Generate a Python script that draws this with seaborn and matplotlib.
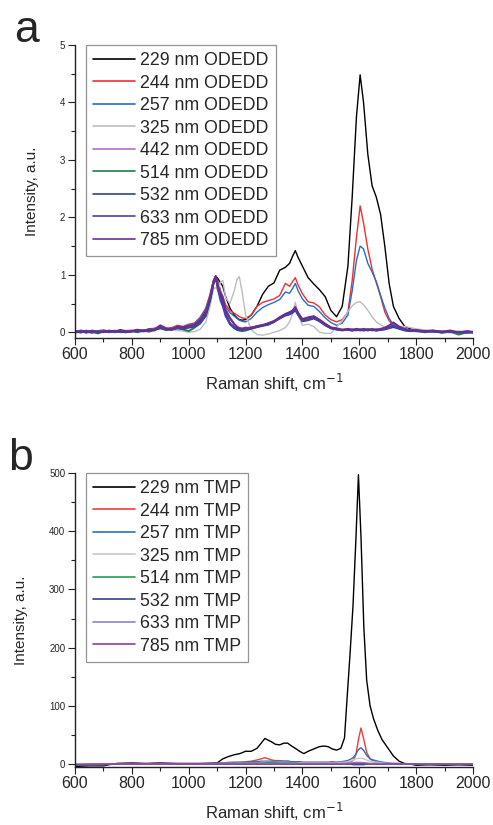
import numpy as np
import pandas as pd
import matplotlib
matplotlib.use("Agg")
import matplotlib.pyplot as plt
from matplotlib.ticker import MultipleLocator
import seaborn as sns

# ---------------- Panel a data (ODEDD) ----------------
A_X = [600, 620, 640, 660, 680, 700, 720, 740, 760, 780,
       800, 820, 840, 860, 880, 900, 920, 940, 960, 980,
       1000, 1020, 1040, 1060, 1075, 1087, 1095, 1103, 1112, 1120,
       1130, 1145, 1160, 1170, 1178, 1188, 1200, 1220, 1240, 1260,
       1280, 1300, 1320, 1340, 1355, 1365, 1375, 1385, 1400, 1420,
       1440, 1460, 1480, 1500, 1520, 1540, 1560, 1575, 1590, 1603,
       1615, 1630, 1645, 1660, 1675, 1690, 1705, 1720, 1740, 1760,
       1780, 1800, 1830, 1860, 1890, 1920, 1950, 1980, 2000]

A_229 = [0.0, 0.01, -0.01, 0.02, 0.0, 0.01, 0.02, 0.0, 0.02, 0.01,
         0.02, 0.03, 0.02, 0.04, 0.05, 0.09, 0.05, 0.06, 0.08, 0.08,
         0.10, 0.14, 0.22, 0.38, 0.62, 0.88, 0.98, 0.93, 0.86, 0.80,
         0.62, 0.42, 0.30, 0.25, 0.22, 0.21, 0.22, 0.30, 0.45, 0.66,
         0.80, 0.86, 1.08, 1.13, 1.20, 1.32, 1.42, 1.30, 1.15, 0.95,
         0.84, 0.74, 0.62, 0.38, 0.27, 0.45, 1.15, 2.35, 3.75, 4.48,
         4.00, 3.10, 2.55, 2.35, 2.05, 1.49, 0.85, 0.45, 0.24, 0.10,
         0.06, 0.03, 0.02, 0.01, 0.0, 0.01, 0.0, -0.01, 0.0]
A_244 = [0.02, 0.0, 0.03, 0.01, 0.02, 0.0, 0.03, 0.01, 0.02, 0.03,
         0.03, 0.05, 0.03, 0.06, 0.07, 0.12, 0.07, 0.08, 0.12, 0.10,
         0.14, 0.16, 0.26, 0.42, 0.66, 0.90, 0.97, 0.88, 0.72, 0.62,
         0.48, 0.38, 0.33, 0.30, 0.27, 0.25, 0.24, 0.30, 0.45, 0.52,
         0.55, 0.58, 0.64, 0.85, 0.80, 0.88, 0.95, 0.82, 0.67, 0.53,
         0.51, 0.44, 0.30, 0.22, 0.18, 0.22, 0.35, 0.90, 1.65, 2.20,
         1.90, 1.45, 1.10, 0.86, 0.62, 0.35, 0.20, 0.12, 0.07, 0.05,
         0.04, 0.03, 0.02, 0.03, 0.01, 0.02, 0.0, 0.02, 0.01]
A_257 = [0.01, 0.02, 0.0, 0.02, 0.01, 0.02, 0.0, 0.02, 0.01, 0.02,
         0.02, 0.04, 0.03, 0.05, 0.06, 0.10, 0.06, 0.07, 0.10, 0.09,
         0.12, 0.15, 0.24, 0.40, 0.64, 0.90, 0.97, 0.86, 0.70, 0.58,
         0.44, 0.34, 0.28, 0.24, 0.21, 0.19, 0.18, 0.24, 0.35, 0.43,
         0.48, 0.52, 0.57, 0.70, 0.68, 0.76, 0.85, 0.72, 0.58, 0.47,
         0.45, 0.36, 0.25, 0.17, 0.12, 0.16, 0.30, 0.72, 1.25, 1.50,
         1.45, 1.20, 1.05, 0.88, 0.64, 0.42, 0.24, 0.13, 0.07, 0.05,
         0.04, 0.02, 0.03, 0.01, 0.02, 0.0, 0.01, 0.0, 0.01]
A_325 = [0.0, 0.02, -0.01, 0.01, 0.0, 0.02, 0.0, 0.01, 0.0, 0.02,
         0.01, 0.02, 0.0, 0.03, 0.04, 0.06, 0.03, 0.04, 0.03, 0.02,
         0.0, 0.01, 0.05, 0.18, 0.45, 0.75, 0.78, 0.72, 0.88, 0.90,
         0.60, 0.50, 0.72, 0.92, 0.97, 0.70, 0.30, 0.05, -0.04, -0.05,
         -0.03, 0.0, 0.03, 0.08, 0.18, 0.32, 0.52, 0.30, 0.12, 0.14,
         0.10, 0.0, -0.02, -0.02, 0.09, 0.20, 0.36, 0.46, 0.52, 0.53,
         0.48, 0.38, 0.27, 0.18, 0.13, 0.09, 0.08, 0.09, 0.10, 0.10,
         0.08, 0.06, 0.04, 0.03, 0.01, 0.02, 0.0, 0.01, 0.0]
A_442 = [0.02, -0.01, 0.03, 0.0, 0.02, 0.04, 0.01, 0.03, 0.0, 0.02,
         0.03, 0.01, 0.04, 0.02, 0.05, 0.11, 0.06, 0.05, 0.09, 0.08,
         0.10, 0.12, 0.19, 0.32, 0.58, 0.86, 0.96, 0.82, 0.70, 0.62,
         0.40, 0.26, 0.15, 0.10, 0.08, 0.07, 0.06, 0.09, 0.10, 0.13,
         0.15, 0.20, 0.24, 0.30, 0.34, 0.37, 0.42, 0.32, 0.22, 0.24,
         0.26, 0.20, 0.14, 0.09, 0.06, 0.05, 0.04, 0.06, 0.03, 0.05,
         0.04, 0.06, 0.03, 0.05, 0.04, 0.07, 0.10, 0.15, 0.09, 0.05,
         0.03, 0.02, 0.01, 0.03, 0.0, 0.02, -0.01, 0.01, 0.0]
A_514 = [-0.01, 0.02, 0.0, 0.01, -0.02, 0.01, 0.02, 0.0, 0.01, 0.0,
         0.02, 0.0, 0.03, 0.01, 0.04, 0.08, 0.04, 0.05, 0.07, 0.05,
         0.02, 0.08, 0.15, 0.28, 0.55, 0.84, 0.95, 0.78, 0.66, 0.56,
         0.32, 0.16, 0.08, 0.04, 0.03, 0.02, 0.03, 0.06, 0.09, 0.11,
         0.13, 0.18, 0.26, 0.31, 0.32, 0.35, 0.40, 0.34, 0.20, 0.23,
         0.27, 0.21, 0.13, 0.07, 0.05, 0.03, 0.05, 0.04, 0.05, 0.03,
         0.05, 0.04, 0.06, 0.03, 0.05, 0.06, 0.08, 0.11, 0.07, 0.04,
         0.02, 0.03, 0.0, 0.02, -0.01, 0.01, -0.04, 0.0, -0.01]
A_532 = [0.01, 0.0, 0.02, 0.01, 0.0, 0.02, 0.01, 0.02, 0.01, 0.0,
         0.02, 0.02, 0.03, 0.03, 0.04, 0.07, 0.05, 0.05, 0.07, 0.06,
         0.08, 0.10, 0.16, 0.30, 0.56, 0.85, 0.96, 0.76, 0.62, 0.52,
         0.30, 0.14, 0.07, 0.05, 0.04, 0.04, 0.05, 0.07, 0.09, 0.12,
         0.14, 0.18, 0.24, 0.29, 0.31, 0.34, 0.38, 0.30, 0.19, 0.21,
         0.24, 0.19, 0.12, 0.07, 0.05, 0.04, 0.04, 0.03, 0.04, 0.04,
         0.03, 0.04, 0.04, 0.03, 0.04, 0.05, 0.07, 0.09, 0.06, 0.03,
         0.02, 0.02, 0.01, 0.02, 0.0, 0.01, 0.0, 0.0, 0.01]
A_633 = [0.02, 0.01, 0.0, 0.03, 0.01, 0.02, 0.0, 0.02, 0.03, 0.01,
         0.02, 0.03, 0.02, 0.04, 0.05, 0.09, 0.05, 0.06, 0.08, 0.07,
         0.09, 0.11, 0.17, 0.31, 0.57, 0.87, 0.97, 0.74, 0.55, 0.45,
         0.28, 0.15, 0.09, 0.07, 0.05, 0.05, 0.05, 0.08, 0.10, 0.12,
         0.14, 0.19, 0.25, 0.30, 0.32, 0.36, 0.41, 0.31, 0.21, 0.22,
         0.25, 0.20, 0.13, 0.08, 0.05, 0.04, 0.05, 0.04, 0.05, 0.05,
         0.04, 0.05, 0.04, 0.05, 0.04, 0.06, 0.08, 0.12, 0.07, 0.04,
         0.03, 0.02, 0.02, 0.01, 0.01, 0.0, 0.01, 0.0, 0.0]
A_785 = [0.0, 0.03, 0.01, -0.01, 0.02, 0.0, 0.03, 0.01, 0.04, 0.02,
         0.01, 0.04, 0.02, 0.05, 0.03, 0.12, 0.07, 0.04, 0.10, 0.09,
         0.11, 0.13, 0.20, 0.33, 0.60, 0.88, 0.98, 0.80, 0.68, 0.60,
         0.38, 0.24, 0.14, 0.09, 0.07, 0.06, 0.08, 0.07, 0.11, 0.12,
         0.16, 0.19, 0.26, 0.32, 0.35, 0.38, 0.44, 0.33, 0.23, 0.26,
         0.28, 0.22, 0.15, 0.08, 0.07, 0.04, 0.06, 0.03, 0.06, 0.04,
         0.06, 0.03, 0.05, 0.04, 0.06, 0.08, 0.12, 0.17, 0.10, 0.06,
         0.03, 0.04, 0.02, 0.03, 0.01, 0.03, 0.0, 0.02, 0.0]

A_LABELS = ["229 nm ODEDD", "244 nm ODEDD", "257 nm ODEDD", "325 nm ODEDD",
            "442 nm ODEDD", "514 nm ODEDD", "532 nm ODEDD", "633 nm ODEDD",
            "785 nm ODEDD"]
A_SERIES = [A_229, A_244, A_257, A_325, A_442, A_514, A_532, A_633, A_785]
A_COLORS = ["#000000", "#f03030", "#2a6cc4", "#bdbdbd", "#b070c0",
            "#1e7f45", "#34437e", "#4a3fb4", "#6e2c8c"]

# ---------------- Panel b data (TMP) ----------------
B_X = [600, 650, 700, 720, 750, 800, 850, 900, 950, 1000,
       1050, 1100, 1120, 1140, 1160, 1180, 1200, 1220, 1240, 1255,
       1268, 1280, 1292, 1305, 1320, 1335, 1348, 1362, 1375, 1390,
       1405, 1420, 1440, 1460, 1475, 1490, 1505, 1520, 1535, 1548,
       1558, 1568, 1578, 1588, 1597, 1606, 1616, 1626, 1638, 1650,
       1665, 1680, 1700, 1720, 1740, 1760, 1780, 1800, 1850, 1900,
       1950, 2000]

B_229 = [-4, -3, -3, -1, 1, 2, 1, 2, 1, 1,
         1, 2, 9, 13, 16, 18, 22, 22, 27, 36,
         44, 41, 38, 34, 33, 36, 36, 31, 27, 22,
         18, 22, 26, 30, 31, 30, 26, 24, 27, 45,
         120, 193, 273, 385, 497, 390, 235, 144, 100, 78,
         58, 42, 28, 14, 5, 1, 0, -2, -1, -2,
         -1, -2]
B_244 = [-2, -2, -1, 0, 1, 1, 1, 1, 1, 1,
         1, 1, 2, 3, 3, 3, 4, 5, 7, 9,
         11, 9, 7, 6, 6, 5, 5, 4, 4, 3,
         3, 3, 3, 3, 3, 3, 4, 3, 3, 3,
         3, 4, 6, 16, 42, 62, 42, 20, 9, 5,
         3, 2, 1, 1, 1, 0, 0, 0, 0, 0,
         0, 0]
B_257 = [-2, -1, -1, 0, 1, 1, 0, 1, 1, 0,
         1, 1, 2, 2, 3, 3, 3, 4, 4, 5,
         5, 5, 5, 5, 5, 5, 5, 4, 4, 4,
         3, 3, 3, 3, 3, 3, 3, 3, 4, 5,
         6, 8, 11, 17, 25, 28, 23, 15, 9, 7,
         5, 3.5, 2, 1, 1, 0, 0, 0, 0, 0,
         0, 0]
B_325 = [0, 0, 0, 0, 0, 0, 0, 0, 0, 0,
         0, 0, 1, 1, 1, 2, 2, 2, 2, 3,
         3, 3, 3, 3, 3, 3, 3, 2, 2, 2,
         2, 2, 2, 2, 2, 2, 2, 2, 3, 3,
         4, 5, 7, 9, 10, 10, 9, 7, 5, 4,
         3, 2, 1, 1, 0, 0, 0, 0, 0, 0,
         0, 0]
B_514 = [-1, -1, 0, 0, 0, 1, 0, 1, 0, 0,
         0, 1, 1, 1, 1, 2, 2, 2, 2, 2,
         2, 3, 3, 3, 2, 2, 2, 2, 2, 1,
         1, 1, 1, 1, 1, 1, 1, 1, 1, 1,
         1, 1, 2, 2, 2, 2, 2, 1, 1, 1,
         1, 0, 0, 0, 0, 0, 0, 0, 0, 0,
         0, 0]
B_532 = [-1, -1, -1, 0, 0, 0, 0, 0, 0, 0,
         0, 0, 0, 0, 0, 0, 0, 0, 0, 0,
         0, 0, 0, 0, 0, 0, 0, 0, 0, 0,
         0, 0, 0, 0, 0, 0, 0, 0, 0, 0,
         0, 0, -1, -1, -1, -1, -1, 0, 0, 0,
         0, 0, 0, 0, 0, 0, 0, 0, -1, -1,
         -1, -1]
B_633 = [0, 0, 0, 0, 0, 0, 0, 0, 0, 0,
         0, 1, 1, 1, 1, 1, 1, 1, 1, 1,
         1, 1, 1, 1, 1, 1, 1, 1, 1, 1,
         1, 1, 1, 1, 1, 1, 1, 1, 1, 1,
         1, 2, 2, 3, 3, 3, 2, 2, 1, 1,
         1, 1, 0, 0, 0, 0, 0, 0, 0, 0,
         0, 0]
B_785 = [-1, 0, 0, 0, 0, 0, 0, 0, 0, 0,
         0, 0, 0, 0, 0, 0, 0, 0, 0, 0,
         0, 0, 0, 0, 0, 0, 0, 0, 0, 0,
         0, 0, 0, 0, 0, 0, 0, 0, 0, 0,
         0, 0, 1, 1, 1, 1, 1, 0, 0, 0,
         0, 0, 0, 0, 0, 0, 0, 0, 0, 0,
         0, 0]

B_LABELS = ["229 nm TMP", "244 nm TMP", "257 nm TMP", "325 nm TMP",
            "514 nm TMP", "532 nm TMP", "633 nm TMP", "785 nm TMP"]
B_SERIES = [B_229, B_244, B_257, B_325, B_514, B_532, B_633, B_785]
B_COLORS = ["#000000", "#f03c3c", "#2f6fc0", "#c8c8c8", "#2a9a55",
            "#34437e", "#8f80c4", "#9040a0"]


def long_df(xs, series, labels):
    frames = []
    for lab, ys in zip(labels, series):
        assert len(ys) == len(xs), (lab, len(ys), len(xs))
        frames.append(pd.DataFrame({"x": xs, "y": ys, "s": lab}))
    return pd.concat(frames, ignore_index=True)


sns.set_style("ticks")
plt.rcParams["font.family"] = ["Liberation Sans", "DejaVu Sans"]

W, H = 493, 825
fig = plt.figure(figsize=(W / 100, H / 100), dpi=100)
ax1 = fig.add_axes([75 / W, 1 - 338 / H, 398 / W, 293 / H])
ax2 = fig.add_axes([75 / W, 1 - 767 / H, 398 / W, 294 / H])

dfa = long_df(A_X, A_SERIES, A_LABELS)
dfb = long_df(B_X, B_SERIES, B_LABELS)

sns.lineplot(data=dfa, x="x", y="y", hue="s", hue_order=A_LABELS,
             palette=dict(zip(A_LABELS, A_COLORS)), estimator=None, sort=False,
             linewidth=1.0, ax=ax1, legend=False)
sns.lineplot(data=dfb, x="x", y="y", hue="s", hue_order=B_LABELS,
             palette=dict(zip(B_LABELS, B_COLORS)), estimator=None, sort=False,
             linewidth=1.0, ax=ax2, legend=False)
for ln in ax1.lines[4:]:
    ln.set_linewidth(1.4)

for ax, (ylo, yhi), ymaj, ymin, labels, colors, top in [
        (ax1, (-0.1, 5.0), 1, 0.5, A_LABELS, A_COLORS, 45),
        (ax2, (-5, 500), 100, 50, B_LABELS, B_COLORS, 473)]:
    ax.set_xlim(600, 2000)
    ax.set_ylim(ylo, yhi)
    ax.xaxis.set_major_locator(MultipleLocator(200))
    ax.xaxis.set_minor_locator(MultipleLocator(100))
    ax.yaxis.set_major_locator(MultipleLocator(ymaj))
    ax.yaxis.set_minor_locator(MultipleLocator(ymin))
    ax.tick_params(which="major", direction="out", length=5, width=0.8,
                   color="#222222")
    ax.tick_params(which="minor", direction="out", length=3, width=0.8,
                   color="#222222")
    ax.tick_params(axis="x", which="major", labelsize=11.5, pad=1.5)
    ax.tick_params(axis="y", which="major", labelsize=7, pad=2)
    for side in ("top", "right"):
        ax.spines[side].set_visible(False)
    for side in ("left", "bottom"):
        ax.spines[side].set_linewidth(1.0)
        ax.spines[side].set_color("#222222")
    ax.set_xlabel("Raman shift, cm$^{-1}$", fontsize=12, labelpad=7)
    ax.set_ylabel("Intensity, a.u.", fontsize=11, labelpad=15)
    handles = [plt.Line2D([], [], color=c, lw=1.2) for c in colors]
    leg = ax.legend(handles, labels, loc="upper left",
                    bbox_to_anchor=(86 / W, 1 - top / H),
                    bbox_transform=fig.transFigure, borderaxespad=0,
                    fontsize=12.8, handlelength=2.36, handletextpad=0.28,
                    labelspacing=0.31, borderpad=0.4, fancybox=False,
                    frameon=True)
    leg.get_frame().set_edgecolor("#7a7a7a")
    leg.get_frame().set_linewidth(0.9)

fig.text(14 / W, 1 - 42 / H, "a", fontsize=32, va="baseline", ha="left")
fig.text(8 / W, 1 - 470 / H, "b", fontsize=32, va="baseline", ha="left")

fig.savefig("out.png", dpi=100)
